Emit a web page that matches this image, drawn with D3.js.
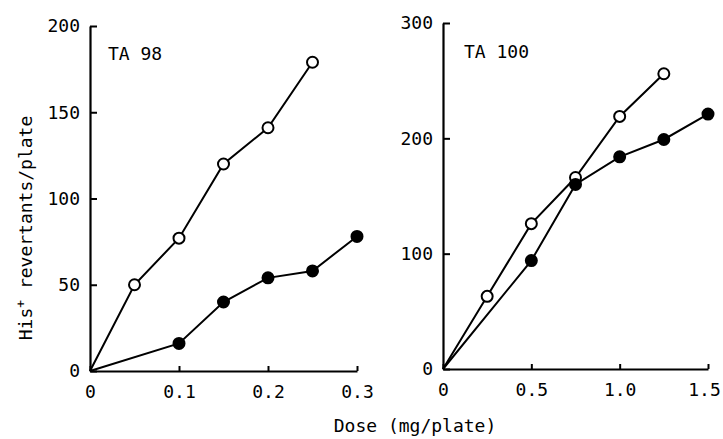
<!DOCTYPE html>
<html><head><meta charset="utf-8">
<script src="https://cdn.jsdelivr.net/npm/d3@7"></script>
<style>
body{margin:0;background:#fff;}
svg text{font-family:"DejaVu Sans Mono","Liberation Mono",monospace;fill:#000;}
</style></head>
<body><svg id="c" width="723" height="439"></svg>
<script>
// Data
const doseA = [0, 0.05, 0.1, 0.15, 0.2, 0.25];
const openA = [0, 50, 77, 120, 141, 179];
const doseAf = [0, 0.1, 0.15, 0.2, 0.25, 0.3];
const filledA = [0, 16, 40, 54, 58, 78];
const doseB = [0, 0.25, 0.5, 0.75, 1.0, 1.25];
const openB = [0, 63, 126, 166, 219, 256];
const doseBf = [0, 0.5, 0.75, 1.0, 1.25, 1.5];
const filledB = [0, 94, 160, 184, 199, 221];
const xTicksA = [0, 0.1, 0.2, 0.3];
const xTickLabelsA = ["0", "0.1", "0.2", "0.3"];
const yTicksA = [0, 50, 100, 150, 200];
const xTicksB = [0, 0.5, 1.0, 1.5];
const xTickLabelsB = ["0", "0.5", "1.0", "1.5"];
const yTicksB = [0, 100, 200, 300];

const svg = d3.select("#c");

function panel(cfg) {
  const x = d3.scaleLinear().domain(cfg.xd).range(cfg.xr);
  const y = d3.scaleLinear().domain(cfg.yd).range(cfg.yr);
  const g = svg.append("g");
  const ax = g.append("g").attr("transform", `translate(0,${cfg.yr[0]})`)
    .call(d3.axisBottom(x).tickValues(cfg.xt).tickFormat((d,i)=>cfg.xl[i]).tickSizeInner(-5).tickSizeOuter(0).tickPadding(14));
  const ay = g.append("g").attr("transform", `translate(${cfg.xr[0]},0)`)
    .call(d3.axisLeft(y).tickValues(cfg.yt).tickFormat(d3.format("d")).tickSizeInner(-7).tickSizeOuter(0).tickPadding(10));
  [ax, ay].forEach(a => {
    a.selectAll("path.domain").attr("stroke", "#000").attr("stroke-width", 2.2);
    a.selectAll(".tick line").attr("stroke", "#000").attr("stroke-width", 2);
    a.selectAll("text").attr("font-size", 18).attr("font-family", "DejaVu Sans Mono");
  });
  if (cfg.lastDx) ax.selectAll(".tick text").filter((d,i,n)=>i===n.length-1).attr("dx", cfg.lastDx);
  const line = d3.line().x(d => x(d[0])).y(d => y(d[1]));
  const sets = [
    {xs: cfg.xo, ys: cfg.yo, fill: "#fff"},
    {xs: cfg.xf, ys: cfg.yf, fill: "#000"}
  ];
  sets.forEach(s => {
    const pts = s.xs.map((v,i)=>[v, s.ys[i]]);
    g.append("path").datum(pts).attr("d", line).attr("fill","none").attr("stroke","#000").attr("stroke-width",2);
  });
  sets.forEach(s => {
    const pts = s.xs.map((v,i)=>[v, s.ys[i]]).slice(1);
    g.selectAll(null).data(pts).enter().append("circle")
      .attr("cx", d=>x(d[0])).attr("cy", d=>y(d[1])).attr("r", 5.5)
      .attr("fill", s.fill).attr("stroke","#000").attr("stroke-width",2);
  });
  g.append("text").attr("x", cfg.lab[0]).attr("y", cfg.lab[1]).attr("font-size", 18).text(cfg.title);
}

panel({xd:[0,0.3], xr:[90,357], yd:[0,200], yr:[371,26], xt:xTicksA, xl:xTickLabelsA, yt:yTicksA,
  xo:doseA, yo:openA, xf:doseAf, yf:filledA, title:"TA 98", lab:[108,60]});
panel({xd:[0,1.5], xr:[443,708], yd:[0,300], yr:[369,23], xt:xTicksB, xl:xTickLabelsB, yt:yTicksB,
  xo:doseB, yo:openB, xf:doseBf, yf:filledB, title:"TA 100", lab:[464,58], lastDx:-4});

svg.append("text").attr("x", 415).attr("y", 432).attr("text-anchor","middle").attr("font-size",18).text("Dose (mg/plate)");
const yl = svg.append("text").attr("transform","translate(32,228) rotate(-90)").attr("text-anchor","middle").attr("font-size",18);
yl.append("tspan").text("His");
yl.append("tspan").attr("dy",-7).attr("font-size",13).text("+");
yl.append("tspan").attr("dy",7).text(" revertants/plate");
</script></body></html>
